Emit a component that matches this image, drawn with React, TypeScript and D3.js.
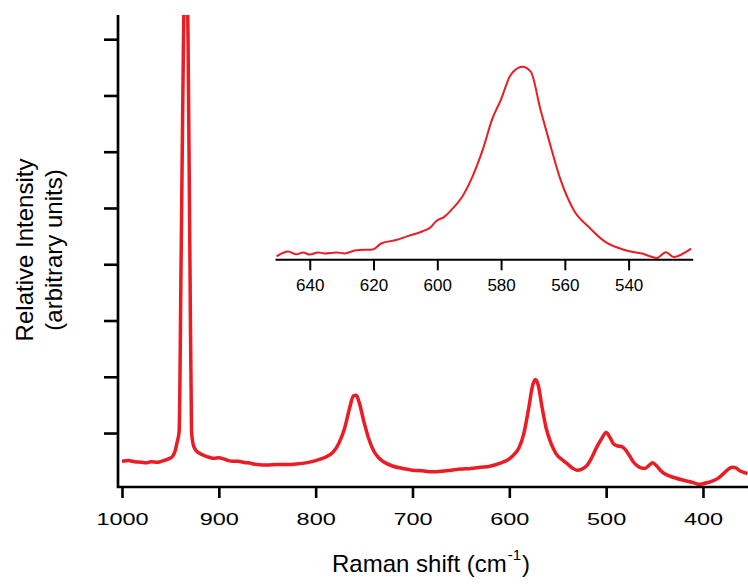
import React, { useRef, useEffect } from 'react';
import * as d3 from 'd3';

// main spectrum: Raman shift (cm-1) and relative intensity
const shift = [
  1000, 993, 987, 980, 975, 970, 963, 957, 952, 948, 945, 943, 941, 939, 936.5, 934.4, 931.8, 929.8, 928.2, 926.5,
  924, 920, 915, 910, 905, 900, 895, 890, 885, 880, 875, 870, 860, 850, 840, 830, 820, 810, 800, 790,
  782, 776, 770, 765, 761, 758, 755, 750, 745, 740, 735, 730, 720, 710, 700, 690, 680, 670, 660, 650,
  640, 630, 620, 610, 600, 595, 590, 585, 580, 576, 573, 570, 566, 562, 557, 552, 545, 540, 535, 530,
  525, 520, 515, 510, 505, 500, 496, 492, 488, 484, 480, 476, 472, 468, 464, 460, 456, 452, 448, 444,
  440, 435, 430, 420, 410, 405, 400, 395, 390, 385, 380, 375, 370, 366, 362, 358, 354,
];
const intensity = [
  0.5, 0.51, 0.49, 0.48, 0.47, 0.49, 0.48, 0.51, 0.54, 0.58, 0.69, 0.84, 1.02, 4.0, 8.0, 10.0, 8.0, 4.0, 1.04, 0.8,
  0.7, 0.64, 0.6, 0.57, 0.55, 0.56, 0.54, 0.51, 0.5, 0.5, 0.48, 0.47, 0.44, 0.43, 0.44, 0.44, 0.45, 0.47, 0.51, 0.57,
  0.66, 0.82, 1.09, 1.44, 1.66, 1.67, 1.54, 1.19, 0.89, 0.68, 0.56, 0.49, 0.41, 0.37, 0.34, 0.33, 0.31, 0.32, 0.34, 0.36,
  0.37, 0.39, 0.41, 0.46, 0.54, 0.62, 0.74, 0.99, 1.44, 1.84, 1.95, 1.84, 1.44, 1.09, 0.82, 0.64, 0.52, 0.45, 0.38, 0.34,
  0.36, 0.42, 0.56, 0.74, 0.89, 1.01, 0.92, 0.8, 0.77, 0.76, 0.7, 0.6, 0.49, 0.42, 0.38, 0.37, 0.42, 0.47, 0.42, 0.34,
  0.28, 0.24, 0.21, 0.16, 0.12, 0.09, 0.1, 0.12, 0.15, 0.19, 0.26, 0.34, 0.39, 0.38, 0.33, 0.3, 0.28,
];

// inset: zoom on the 573 band
const insetShift = [
  650.4, 646.8, 644.2, 642.1, 640, 637.4, 635.3, 631.7, 629.1, 625.4, 620.2, 617.6, 612.9, 608.75, 604.6, 602, 600.4,
  597.8, 595.2, 592.1, 589, 585.8, 582.7, 580.1, 577, 573.3, 570.7, 567.6, 565, 561.3, 557.2, 552.5, 547.3, 541,
  535.8, 531.1, 528.3, 525.9, 520.4,
];
const insetIntensity = [
  0.015, 0.04, 0.025, 0.035, 0.024, 0.035, 0.03, 0.035, 0.03, 0.046, 0.05, 0.08, 0.098, 0.12, 0.142, 0.164, 0.193,
  0.215, 0.257, 0.32, 0.418, 0.553, 0.714, 0.807, 0.934, 0.976, 0.951, 0.756, 0.604, 0.401, 0.249, 0.164, 0.088, 0.046,
  0.029, 0.007, 0.036, 0.012, 0.054,
];

const mainXTicks = [1000, 900, 800, 700, 600, 500, 400];
const mainYTicks = [1, 2, 3, 4, 5, 6, 7, 8];
const insetTicks = [640, 620, 600, 580, 560, 540];

function App() {
  const svgRef = useRef(null);

  useEffect(() => {
    const svg = d3.select(svgRef.current);
    svg.selectAll('*').remove();

    const width = 748;
    const height = 584;
    const font = '"Liberation Sans", Arial, sans-serif';
    const red = '#ec1c24';

    const left = 118;
    const top = 15;
    const bottom = 487;

    const x = d3.scaleLinear().domain([1000, 353.5]).range([122, width]);
    const y = d3.scaleLinear().domain([0, 8.43]).range([489.3, top]);

    svg.append('defs').append('clipPath').attr('id', 'plotclip')
      .append('rect')
      .attr('x', left)
      .attr('y', top)
      .attr('width', width - left)
      .attr('height', bottom - top);

    const data = shift.map((s, i) => ({ s, v: intensity[i] }));
    const line = d3.line()
      .x(d => x(d.s))
      .y(d => y(d.v))
      .curve(d3.curveMonotoneX);

    svg.append('path')
      .datum(data)
      .attr('clip-path', 'url(#plotclip)')
      .attr('d', line)
      .attr('fill', 'none')
      .attr('stroke', red)
      .attr('stroke-width', 3.5)
      .attr('stroke-linejoin', 'round');

    // x axis
    const xAxis = svg.append('g')
      .attr('transform', `translate(0, ${bottom})`)
      .call(d3.axisBottom(x).tickValues(mainXTicks).tickSize(11).tickPadding(15).tickFormat(d3.format('d')));
    xAxis.select('.domain').remove();
    xAxis.selectAll('line').attr('stroke', '#000').attr('stroke-width', 2.6);
    xAxis.selectAll('text')
      .attr('font-family', font)
      .attr('font-size', 17)
      .attr('fill', '#000')
      .attr('transform', 'scale(1.38,1)');

    // y axis, ticks only
    const yAxis = svg.append('g')
      .attr('transform', `translate(${left}, 0)`)
      .call(d3.axisLeft(y).tickValues(mainYTicks).tickSize(14).tickFormat(() => ''));
    yAxis.select('.domain').remove();
    yAxis.selectAll('line').attr('stroke', '#000').attr('stroke-width', 2.6);

    svg.append('path')
      .attr('d', `M${left},${top}V${bottom}H${width}`)
      .attr('fill', 'none')
      .attr('stroke', '#000')
      .attr('stroke-width', 2.7);

    // axis titles
    const xt = svg.append('text')
      .attr('x', 332)
      .attr('y', 572)
      .attr('font-family', font)
      .attr('font-size', 24)
      .attr('fill', '#000');
    xt.append('tspan').text('Raman shift (cm');
    xt.append('tspan').attr('dy', -12).attr('dx', 1).attr('font-size', 15).text('-1');
    xt.append('tspan').attr('dy', 12).attr('dx', 1).text(')');

    svg.append('text')
      .attr('transform', 'translate(33, 250) rotate(-90)')
      .attr('text-anchor', 'middle')
      .attr('font-family', font)
      .attr('font-size', 24)
      .attr('fill', '#000')
      .text('Relative Intensity');

    svg.append('text')
      .attr('transform', 'translate(62, 250) rotate(-90)')
      .attr('text-anchor', 'middle')
      .attr('font-family', font)
      .attr('font-size', 24)
      .attr('fill', '#000')
      .text('(arbitrary units)');

    // inset
    const ix = d3.scaleLinear().domain([650.9, 519.9]).range([275, 692.7]);
    const iy = d3.scaleLinear().domain([0, 1]).range([259.3, 62]);

    const inset = insetShift.map((s, i) => ({ s, v: insetIntensity[i] }));
    svg.append('path')
      .datum(inset)
      .attr('d', d3.line().x(d => ix(d.s)).y(d => iy(d.v)).curve(d3.curveMonotoneX))
      .attr('fill', 'none')
      .attr('stroke', red)
      .attr('stroke-width', 2);

    const insetAxis = svg.append('g')
      .attr('transform', 'translate(0, 259.3)')
      .call(d3.axisBottom(ix).tickValues(insetTicks).tickSize(11).tickPadding(9).tickSizeOuter(0));
    insetAxis.select('.domain').attr('stroke', '#000').attr('stroke-width', 2);
    insetAxis.selectAll('line').attr('stroke', '#000').attr('stroke-width', 2);
    insetAxis.selectAll('text')
      .attr('font-family', font)
      .attr('font-size', 17)
      .attr('fill', '#000');
  }, []);

  return (
    <svg
      ref={svgRef}
      width={748}
      height={584}
      style={{ position: 'absolute', left: 0, top: 0, background: '#fff' }}
    ></svg>
  );
}

export default App;
